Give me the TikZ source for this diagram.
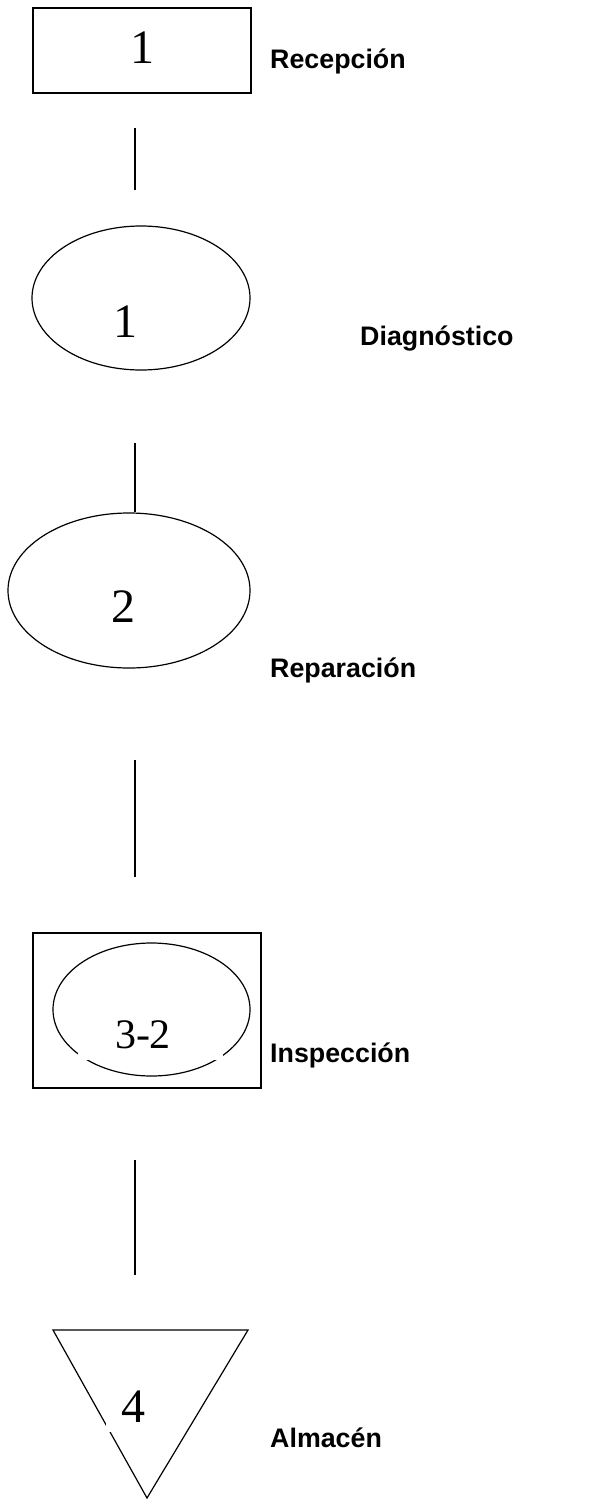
\documentclass[tikz,border=0pt]{standalone}
\usepackage{fontspec}
\setmainfont{Liberation Serif}
\newfontfamily\labfont{Liberation Sans}
\usetikzlibrary{shapes.geometric}
\tikzset{
  boxshape/.style={draw, line width=1.5pt, inner sep=0pt, anchor=north west},
  ovalshape/.style={draw, ellipse, line width=1.2pt, inner sep=0pt},
  link/.style={line width=1.2pt},
  num/.style={anchor=base, inner sep=0pt, font=\fontsize{48}{50}\selectfont},
  lab/.style={anchor=base west, inner sep=0pt, font=\labfont\bfseries\fontsize{26.8}{30}\selectfont},
}
\begin{document}
\begin{tikzpicture}[x=1pt,y=-1pt]
\useasboundingbox (0,0) rectangle (605,1499);
% Recepcion
\node[boxshape, minimum width=218pt, minimum height=85pt] (rec) at (32,7) {};
\node[num] (recn) at (142,63) {1};
\node[lab] (recl) at (270,68) {Recepción};
\coordinate (l1a) at (135,128);
\coordinate (l1b) at (135,190);
\draw[link] (l1a) -- (l1b);
% Diagnostico
\node[ovalshape, minimum width=218pt, minimum height=144pt] (dia) at (141,298) {};
\node[num] (dian) at (125,337) {1};
\node[lab] (dial) at (360,345) {Diagnóstico};
\coordinate (l2a) at (135,443);
% Reparacion
\node[ovalshape, minimum width=242pt, minimum height=155pt] (rep) at (129,590.5) {};
\coordinate (l2b) at (rep.north -| l2a);
\draw[link] (l2a) -- (l2b);
\node[num] (repn) at (123,622) {2};
\node[lab] (repl) at (270,677) {Reparación};
\coordinate (l3a) at (135,760);
\coordinate (l3b) at (135,877);
\draw[link] (l3a) -- (l3b);
% Inspeccion
\node[boxshape, minimum width=228pt, minimum height=155pt] (ins) at (32,932) {};
\node[ovalshape, minimum width=197pt, minimum height=133pt] (inso) at (151.5,1009.5) {};
\fill[white] (78,1005) rectangle (223,1060);
\node[num, font=\fontsize{42}{44}\selectfont] (insn) at (143,1048) {3-2};
\node[lab] (insl) at (270,1062) {Inspección};
\coordinate (l4a) at (135,1160);
\coordinate (l4b) at (135,1275);
\draw[link] (l4a) -- (l4b);
% Almacen
\coordinate (t1) at (53,1330);
\coordinate (t2) at (248,1330);
\coordinate (t3) at (147,1498);
\draw[line width=1.2pt, line join=miter] (t1) -- (t2) -- (t3) -- cycle;
\fill[white] (106,1380) rectangle (160,1432);
\node[num] (alm) at (133,1422) {4};
\node[lab] (alml) at (270,1447) {Almacén};
\end{tikzpicture}
\end{document}
